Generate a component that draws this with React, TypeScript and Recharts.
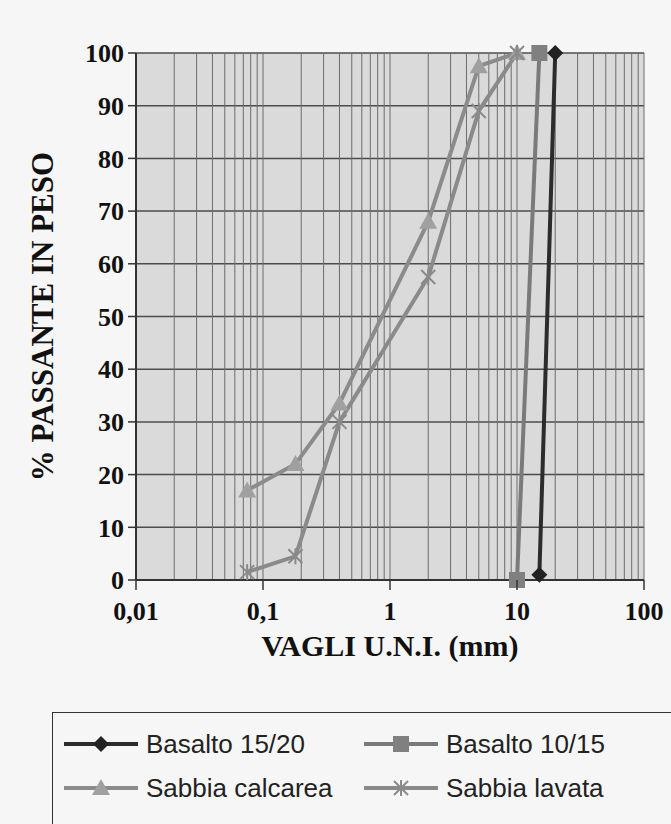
import React from 'react';
import { LineChart, Line, XAxis, YAxis, CartesianGrid, Legend } from 'recharts';

// UNI sieve openings (mm) and % passing for each material
const basalto1520Sieves = [15, 20];
const basalto1520Pass = [1, 100];
const basalto1015Sieves = [10, 15];
const basalto1015Pass = [0, 100];
const sabbiaSieves = [0.075, 0.18, 0.4, 2, 5, 10];
const calcareaPass = [17, 22, 33.5, 68, 97.5, 100];
const lavataPass = [1.5, 4.5, 30, 57.5, 89, 100];

const decades = [0.01, 0.1, 1, 10, 100];
const decadeLabels = ['0,01', '0,1', '1', '10', '100'];
const yTicks = [0, 10, 20, 30, 40, 50, 60, 70, 80, 90, 100];

const W = 671;
const H = 824;
const serif = '"Liberation Serif", "Times New Roman", serif';
const sans = '"Liberation Sans", Arial, sans-serif';

// log grid: 1..9 inside every decade
const logTicks: number[] = [];
decades.slice(0, -1).forEach((d) => {
  for (let m = 1; m < 10; m++) logTicks.push(Number((d * m).toPrecision(2)));
});
logTicks.push(100);

const toPoints = (xs: number[], ys: number[]) => xs.map((x, i) => ({ x, y: ys[i] }));

type Kind = 'diamond' | 'square' | 'triangle' | 'star';

const series = [
  { name: 'Basalto 15/20', data: toPoints(basalto1520Sieves, basalto1520Pass), color: '#2c2c2c', mark: '#222222', kind: 'diamond' as Kind },
  { name: 'Basalto 10/15', data: toPoints(basalto1015Sieves, basalto1015Pass), color: '#7a7a7a', mark: '#808080', kind: 'square' as Kind },
  { name: 'Sabbia calcarea', data: toPoints(sabbiaSieves, calcareaPass), color: '#8b8b8b', mark: '#a0a0a0', kind: 'triangle' as Kind },
  { name: 'Sabbia lavata', data: toPoints(sabbiaSieves, lavataPass), color: '#8a8a8a', mark: '#8a8a8a', kind: 'star' as Kind },
];

function Marker({ kind, cx, cy, color }: { kind: Kind; cx: number; cy: number; color: string }) {
  if (kind === 'diamond') {
    return <polygon points={`${cx},${cy - 8} ${cx + 8},${cy} ${cx},${cy + 8} ${cx - 8},${cy}`} fill={color} />;
  }
  if (kind === 'square') {
    return <rect x={cx - 8} y={cy - 8} width={16} height={16} fill={color} />;
  }
  if (kind === 'triangle') {
    return <polygon points={`${cx},${cy - 9} ${cx + 9},${cy + 7} ${cx - 9},${cy + 7}`} fill={color} />;
  }
  return (
    <g stroke={color} strokeWidth={2}>
      <line x1={cx - 7} y1={cy - 7} x2={cx + 7} y2={cy + 7} />
      <line x1={cx - 7} y1={cy + 7} x2={cx + 7} y2={cy - 7} />
      <line x1={cx} y1={cy - 8} x2={cx} y2={cy + 8} />
    </g>
  );
}

const makeDot = (kind: Kind, color: string) => (props: any) => (
  <Marker key={`${kind}-${props.index}`} kind={kind} cx={props.cx} cy={props.cy} color={color} />
);

function XTick(props: any) {
  const { x, y, payload } = props;
  const i = decades.indexOf(payload.value);
  if (i < 0) return <g />;
  return (
    <g>
      <line x1={x} y1={y - 8} x2={x} y2={y + 2} stroke="#333" strokeWidth={1.5} />
      <text x={x} y={y + 32} textAnchor="middle" fontFamily={serif} fontWeight="bold" fontSize={26} fill="#111">
        {decadeLabels[i]}
      </text>
    </g>
  );
}

// legend keeps the series order (the default sorts by name)
function LegendBox() {
  return (
    <div
      style={{
        border: '1.5px solid #333',
        width: 640,
        height: 140,
        boxSizing: 'border-box',
        padding: '14px 0 0 9px',
        display: 'grid',
        gridTemplateColumns: '300px 320px',
        alignContent: 'start',
        rowGap: 10,
      }}
    >
      {series.map((s) => (
        <div key={s.name} style={{ display: 'flex', alignItems: 'center', height: 34 }}>
          <svg width={78} height={20}>
            <line x1={2} y1={10} x2={76} y2={10} stroke={s.color} strokeWidth={4} />
            <Marker kind={s.kind} cx={39} cy={10} color={s.mark} />
          </svg>
          <span style={{ fontFamily: sans, fontSize: 26, color: '#222', marginLeft: 6 }}>{s.name}</span>
        </div>
      ))}
    </div>
  );
}

export default function App() {
  return (
    <div style={{ position: 'absolute', left: 0, top: 0, width: W, height: H, overflow: 'hidden', background: '#f6f6f6' }}>
      <LineChart width={W} height={H} margin={{ top: 53, right: 27, left: 56, bottom: 164 }}>
        <CartesianGrid vertical={false} fill="#dadada" stroke="#4c4c4c" strokeWidth={1.5} />
        <CartesianGrid horizontal={false} stroke="#6c6c6c" strokeWidth={1} />
        <XAxis
          dataKey="x"
          type="number"
          scale="log"
          domain={[0.01, 100]}
          ticks={logTicks}
          interval={0}
          allowDataOverflow
          height={80}
          axisLine={{ stroke: '#333', strokeWidth: 2 }}
          tickLine={false}
          tick={<XTick />}
          label={{
            value: 'VAGLI U.N.I. (mm)',
            position: 'insideBottom',
            offset: 4,
            style: { fontFamily: serif, fontWeight: 'bold', fontSize: 30, fill: '#111' },
          }}
        />
        <YAxis
          type="number"
          domain={[0, 100]}
          ticks={yTicks}
          interval={0}
          width={80}
          axisLine={{ stroke: '#333', strokeWidth: 2 }}
          tickLine={{ stroke: '#333', strokeWidth: 1.5 }}
          tickSize={8}
          tickMargin={4}
          tick={{ fontFamily: serif, fontWeight: 'bold', fontSize: 26, fill: '#111' }}
          label={{
            value: '% PASSANTE IN PESO',
            angle: -90,
            position: 'insideLeft',
            offset: -14,
            style: { textAnchor: 'middle', fontFamily: serif, fontWeight: 'bold', fontSize: 31, fill: '#111' },
          }}
        />
        {series.map((s) => (
          <Line
            key={s.name}
            name={s.name}
            data={s.data}
            dataKey="y"
            type="linear"
            stroke={s.color}
            strokeWidth={4}
            dot={makeDot(s.kind, s.mark)}
            activeDot={false}
            isAnimationActive={false}
            legendType="line"
          />
        ))}
        <Legend
          layout="horizontal"
          verticalAlign="middle"
          align="center"
          content={<LegendBox />}
          wrapperStyle={{ top: 712, left: 52, width: 640, height: 140 }}
        />
      </LineChart>
    </div>
  );
}
